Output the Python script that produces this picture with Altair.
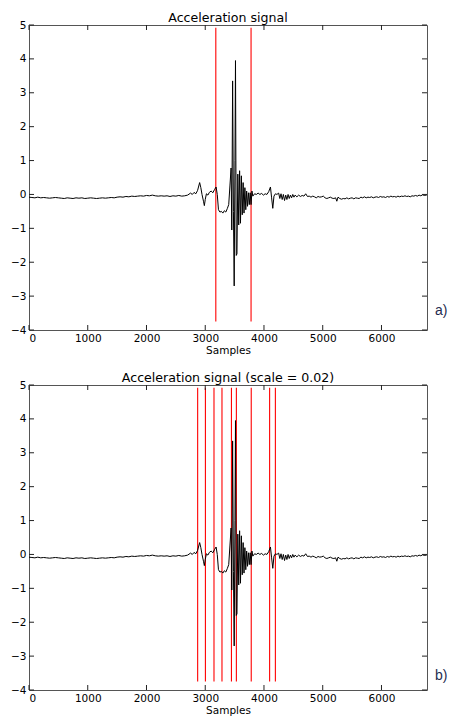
import altair as alt
import pandas as pd

# ---- data ----
SAMPLES = [0, 50, 100, 150, 200, 250, 300, 350, 400, 450, 500, 550, 600, 650, 700, 750, 800, 850, 900, 950,
           1000, 1050, 1100, 1150, 1200, 1250, 1300, 1350, 1400, 1450, 1500, 1550, 1600, 1650, 1700, 1750,
           1800, 1850, 1900, 1950, 2000, 2050, 2100, 2150, 2200, 2250, 2300, 2350, 2400, 2450, 2500, 2550,
           2600, 2650, 2700, 2750, 2780, 2810, 2840, 2870, 2905, 2925, 2945, 2970, 2985, 3000, 3020, 3045,
           3070, 3100, 3130, 3160, 3185, 3205, 3225, 3250, 3275, 3300, 3325, 3350, 3375, 3400, 3420, 3440,
           3452, 3466, 3480, 3493, 3506, 3515, 3528, 3540, 3555, 3570, 3585, 3600, 3615, 3630, 3645, 3660,
           3675, 3690, 3705, 3720, 3735, 3750, 3765, 3780, 3795, 3810, 3840, 3870, 3900, 3930, 3960, 3990,
           4020, 4050, 4080, 4110, 4130, 4150, 4170, 4195, 4220, 4250, 4270, 4290, 4310, 4330, 4350, 4370,
           4390, 4410, 4430, 4450, 4470, 4490, 4510, 4530, 4560, 4590, 4620, 4650, 4680, 4710, 4740, 4770,
           4800, 4830, 4860, 4890, 4920, 4950, 4980, 5010, 5040, 5070, 5100, 5130, 5160, 5190, 5220, 5240,
           5260, 5290, 5320, 5350, 5380, 5410, 5440, 5470, 5500, 5530, 5560, 5590, 5620, 5650, 5680, 5710,
           5740, 5770, 5800, 5830, 5860, 5890, 5920, 5950, 5980, 6010, 6040, 6070, 6100, 6130, 6160, 6190,
           6220, 6250, 6280, 6310, 6340, 6370, 6400, 6430, 6460, 6490, 6520, 6550, 6580, 6610, 6640, 6670,
           6700, 6730, 6760, 6775]
VALUES = [-0.08, -0.09, -0.10, -0.08, -0.10, -0.09, -0.10, -0.11, -0.10, -0.09, -0.10, -0.11, -0.12, -0.10,
          -0.11, -0.12, -0.10, -0.11, -0.10, -0.12, -0.11, -0.10, -0.11, -0.12, -0.11, -0.10, -0.11, -0.10,
          -0.09, -0.10, -0.08, -0.07, -0.08, -0.06, -0.07, -0.05, -0.06, -0.05, -0.04, -0.05, -0.03, -0.04,
          -0.02, -0.04, -0.05, -0.04, -0.05, -0.04, -0.06, -0.04, -0.05, -0.03, -0.05, -0.04, -0.02, 0.04,
          0.00, 0.06, 0.02, 0.12, 0.35, 0.20, 0.00, -0.20, -0.33, -0.15, 0.02, -0.02, 0.06, 0.10, 0.05, 0.15,
          0.22, 0.00, -0.45, -0.52, -0.50, -0.55, -0.48, -0.52, -0.42, -0.30, 0.25, 0.78, -1.05, 3.35, -0.50,
          -2.70, 1.00, 3.95, -1.80, -1.75, 0.60, -0.90, 0.70, -0.85, 0.55, -0.60, 0.35, -0.55, 0.20, -0.45,
          0.10, -0.35, 0.05, -0.30, 0.05, -0.30, 0.10, -0.05, 0.02, 0.00, 0.04, 0.00, 0.03, -0.02, 0.02, 0.00,
          0.08, 0.22, -0.10, -0.41, -0.05, 0.02, 0.00, 0.04, -0.12, 0.02, -0.15, 0.00, -0.18, -0.02, -0.15,
          0.00, -0.12, -0.02, -0.10, 0.00, -0.08, -0.02, -0.07, -0.02, -0.06, -0.03, -0.05, 0.02, -0.06,
          -0.05, -0.08, -0.05, -0.07, -0.10, -0.06, -0.08, -0.07, -0.05, -0.10, -0.12, -0.10, -0.08, -0.11,
          -0.12, -0.10, -0.20, -0.08, -0.12, -0.14, -0.12, -0.13, -0.10, -0.13, -0.11, -0.10, -0.13, -0.10,
          -0.11, -0.12, -0.08, -0.10, -0.07, -0.10, -0.08, -0.09, -0.07, -0.10, -0.08, -0.07, -0.09, -0.06,
          -0.08, -0.07, -0.09, -0.06, -0.08, -0.05, -0.07, -0.06, -0.08, -0.05, -0.07, -0.05, -0.06, -0.04,
          -0.06, -0.05, -0.07, -0.04, -0.05, -0.03, -0.05, -0.02, -0.04, -0.01, -0.03, -0.02, -0.01]

LINES_A = [3180, 3780]
LINES_B = [2871, 3003, 3149, 3285, 3446, 3530, 3783, 4096, 4194]
LINE_LOW, LINE_HIGH = -3.75, 4.92

X_TICKS = [0, 1000, 2000, 3000, 4000, 5000, 6000]
Y_TICKS = [-4, -3, -2, -1, 0, 1, 2, 3, 4, 5]
X_MAX = 6775

TITLE_A = "Acceleration signal"
TITLE_B = "Acceleration signal (scale = 0.02)"
TAG_A, TAG_B = "a)", "b)"

W, H = 398, 305
TL = 5

signal = pd.DataFrame({"s": SAMPLES, "v": VALUES})
xt = pd.DataFrame({"s": X_TICKS})
yt = pd.DataFrame({"v": Y_TICKS})

xs = alt.Scale(domain=[0, X_MAX], nice=False, zero=False)
ys = alt.Scale(domain=[-4, 5], nice=False, zero=False)

X_AXIS = alt.Axis(values=X_TICKS, format="d", ticks=False, domain=False, grid=False, labelPadding=3)
Y_AXIS = alt.Axis(values=Y_TICKS, format="d", ticks=False, domain=False, grid=False, labelPadding=3)


def panel(lines, title, tag, tag_y):
    ln = pd.DataFrame({"s": lines, "v": [LINE_LOW] * len(lines), "hi": [LINE_HIGH] * len(lines)})
    base = alt.Chart(signal).mark_line(color="black", strokeWidth=1).encode(
        x=alt.X("s:Q", scale=xs, title="Samples", axis=X_AXIS),
        y=alt.Y("v:Q", scale=ys, title=None, axis=Y_AXIS),
    )
    red = alt.Chart(ln).mark_rule(color="#ff0000", strokeWidth=1.1).encode(
        x=alt.X("s:Q", scale=xs, title="Samples", axis=X_AXIS),
        y=alt.Y("v:Q", scale=ys, title=None, axis=Y_AXIS),
        y2="hi:Q",
    )
    tl = alt.Chart(yt).mark_rule(color="#222", strokeWidth=1).encode(
        y=alt.Y("v:Q", scale=ys, title=None, axis=Y_AXIS), x=alt.value(0), x2=alt.value(TL))
    tr = alt.Chart(yt).mark_rule(color="#222", strokeWidth=1).encode(
        y=alt.Y("v:Q", scale=ys, title=None, axis=Y_AXIS), x=alt.value(W - TL), x2=alt.value(W))
    tb = alt.Chart(xt).mark_rule(color="#222", strokeWidth=1).encode(
        x=alt.X("s:Q", scale=xs, title="Samples", axis=X_AXIS), y=alt.value(H - TL), y2=alt.value(H))
    tt = alt.Chart(xt).mark_rule(color="#222", strokeWidth=1).encode(
        x=alt.X("s:Q", scale=xs, title="Samples", axis=X_AXIS), y=alt.value(0), y2=alt.value(TL))
    lab = alt.Chart(pd.DataFrame({"v": [tag_y], "t": [tag]})).mark_text(
        font="Liberation Sans", fontSize=14, color="#1f2d50", align="left", baseline="middle"
    ).encode(x=alt.value(W + 8), y=alt.Y("v:Q", scale=ys, title=None, axis=Y_AXIS), text="t:N")
    return alt.layer(red, base, tl, tr, tb, tt, lab).properties(
        width=W, height=H, title=alt.TitleParams(title))


chart = alt.vconcat(
    panel(LINES_A, TITLE_A, TAG_A, -3.45),
    panel(LINES_B, TITLE_B, TAG_B, -3.6),
    spacing=14,
).properties(
    padding={"left": 2, "top": 3, "right": 0, "bottom": 0}
).configure_view(
    stroke="#555555", strokeWidth=1
).configure_title(
    font="DejaVu Sans", fontSize=12.6, fontWeight="normal", color="black", offset=-5
).configure_axis(
    labelFont="DejaVu Sans", labelFontSize=10.5, labelColor="black",
    titleFont="DejaVu Sans", titleFontSize=10.5, titleFontWeight="normal", titleColor="black",
    titlePadding=2
)

chart.save("out.html", embed_options={"renderer": "svg", "actions": False})
